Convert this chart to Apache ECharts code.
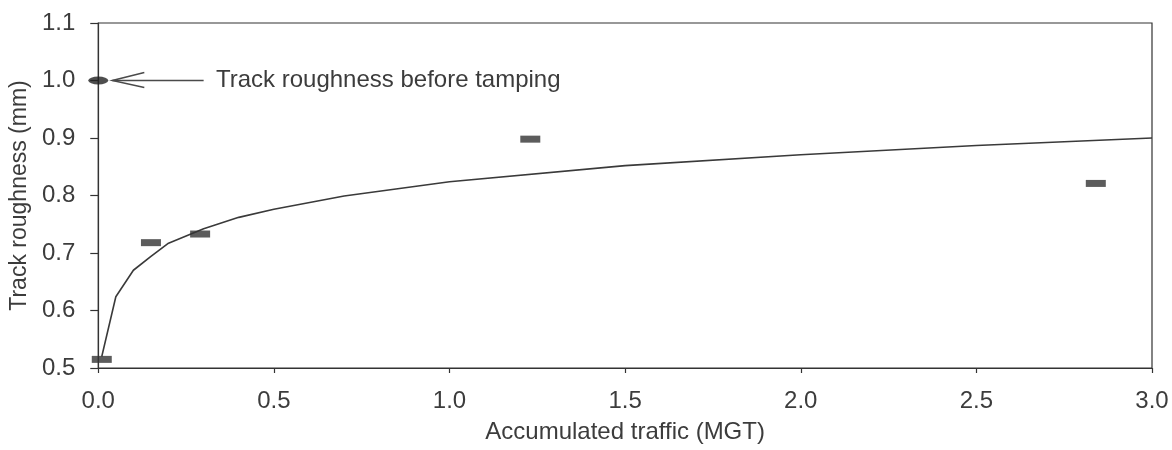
<!DOCTYPE html>
<html>
<head>
<meta charset="utf-8">
<script src="https://cdn.jsdelivr.net/npm/echarts@6/dist/echarts.min.js"></script>
<style>
  html, body { margin: 0; padding: 0; background: #fff; }
  #chart { width: 1172px; height: 450px; }
</style>
</head>
<body>
<div id="chart"></div>
<script>
// Measured track roughness after tamping (MGT, mm)
const measuredTraffic = [0.01, 0.15, 0.29, 1.23, 2.84];
const measuredRoughness = [0.515, 0.718, 0.733, 0.898, 0.821];

// Fitted trend curve
const fitTraffic = [0.01, 0.05, 0.1, 0.15, 0.2, 0.3, 0.4, 0.5, 0.7, 1.0, 1.5, 2.0, 2.5, 3.0];
const fitRoughness = [0.52, 0.624, 0.670, 0.694, 0.717, 0.742, 0.762, 0.776, 0.799, 0.824, 0.852, 0.871, 0.887, 0.900];

// Roughness before tamping
const beforeTraffic = [0.0];
const beforeRoughness = [1.0];

// Annotation: arrow tip, arrow tail, label start (traffic), at roughness level
const noteX = [0.04, 0.30, 0.335];
const noteY = 1.0;
const noteText = 'Track roughness before tamping';

// Axis ticks
const xTicks = [0.0, 0.5, 1.0, 1.5, 2.0, 2.5, 3.0];
const yTicks = [0.5, 0.6, 0.7, 0.8, 0.9, 1.0, 1.1];

const FONT = "'Liberation Sans', Arial, sans-serif";
const TEXT = '#3c3c3c';
const INK = '#333333';

const chart = echarts.init(document.getElementById('chart'), null, { renderer: 'canvas' });

const option = {
  animation: false,
  backgroundColor: '#ffffff',
  grid: {
    left: 96.5, right: 20, top: 23, bottom: 82,
    show: true, borderColor: INK, borderWidth: 1.2, backgroundColor: 'transparent'
  },
  xAxis: {
    type: 'value',
    min: xTicks[0], max: xTicks[xTicks.length - 1], interval: 0.5,
    name: 'Accumulated traffic (MGT)',
    nameLocation: 'middle', nameGap: 52,
    nameTextStyle: { fontFamily: FONT, fontSize: 24, color: TEXT },
    axisLine: { show: true, lineStyle: { color: INK, width: 1.2 } },
    axisTick: { show: true, length: 5, inside: false, lineStyle: { color: INK, width: 1.2 } },
    axisLabel: {
      margin: 21, fontFamily: FONT, fontSize: 24, color: TEXT,
      formatter: v => xTicks.find(t => Math.abs(t - v) < 1e-6).toFixed(1)
    },
    splitLine: { show: false }
  },
  yAxis: {
    type: 'value',
    min: yTicks[0], max: yTicks[yTicks.length - 1], interval: 0.1,
    name: 'Track roughness (mm)',
    nameLocation: 'middle', nameGap: 66, nameRotate: 90,
    nameTextStyle: { fontFamily: FONT, fontSize: 23, color: TEXT },
    axisLine: { show: true, lineStyle: { color: INK, width: 1.2 } },
    axisTick: { show: true, length: 8, inside: false, lineStyle: { color: INK, width: 1.2 } },
    axisLabel: {
      margin: 23, fontFamily: FONT, fontSize: 24, color: TEXT,
      formatter: v => v.toFixed(1)
    },
    splitLine: { show: false }
  },
  series: [
    {
      name: 'fit',
      type: 'line',
      data: fitTraffic.map((x, i) => [x, fitRoughness[i]]),
      showSymbol: false,
      smooth: false,
      lineStyle: { color: '#3a3a3a', width: 1.6 },
      z: 2
    },
    {
      name: 'measured',
      type: 'scatter',
      data: measuredTraffic.map((x, i) => [x, measuredRoughness[i]]),
      symbol: 'rect',
      symbolSize: [20, 7],
      itemStyle: { color: '#333333' },
      z: 3
    },
    {
      name: 'before',
      type: 'scatter',
      data: beforeTraffic.map((x, i) => [x, beforeRoughness[i]]),
      symbol: 'path://M0,5 A10,5 0 1,1 20,5 A10,5 0 1,1 0,5 Z',
      symbolSize: [20, 8],
      symbolKeepAspect: false,
      itemStyle: { color: '#222222' },
      clip: false,
      z: 4
    },
    {
      name: 'note',
      type: 'custom',
      coordinateSystem: 'cartesian2d',
      clip: false,
      data: [[noteX[0], noteY]],
      renderItem: (params, api) => {
        const tip = api.coord([noteX[0], noteY]);
        const tail = api.coord([noteX[1], noteY]);
        const label = api.coord([noteX[2], noteY]);
        const stroke = { stroke: '#4a4a4a', lineWidth: 1.5, fill: null };
        return {
          type: 'group',
          children: [
            { type: 'line', shape: { x1: tip[0], y1: tip[1], x2: tail[0], y2: tail[1] }, style: stroke },
            { type: 'polyline', shape: { points: [[tip[0] + 32, tip[1] - 8], tip, [tip[0] + 32, tip[1] + 7]] }, style: stroke },
            {
              type: 'text',
              style: {
                x: label[0], y: label[1], text: noteText,
                fontFamily: FONT, fontSize: 24, fill: TEXT,
                align: 'left', verticalAlign: 'middle'
              }
            }
          ]
        };
      },
      z: 5
    }
  ]
};

chart.setOption(option);
</script>
</body>
</html>
